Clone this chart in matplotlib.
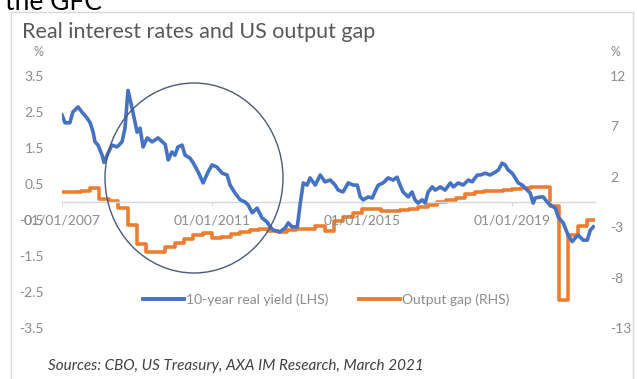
import matplotlib
matplotlib.use('Agg')
import matplotlib.pyplot as plt
import matplotlib.dates as mdates
from matplotlib.patches import Ellipse, Rectangle
from matplotlib.lines import Line2D
import pandas as pd

plt.rcParams['font.family'] = ['Lato', 'DejaVu Sans']
plt.rcParams['axes.unicode_minus'] = False

# ---------------- data ----------------
# 10-year real yield (LHS), decimal-year dates
yield_dates = [2007.00, 2007.08, 2007.21, 2007.29, 2007.43, 2007.53, 2007.67, 2007.75, 2007.83, 2007.88,
               2007.96, 2008.07, 2008.12, 2008.23, 2008.33, 2008.47, 2008.60, 2008.68, 2008.76, 2008.87,
               2009.00, 2009.08, 2009.16, 2009.27, 2009.40, 2009.56, 2009.75, 2009.83, 2009.93, 2010.01,
               2010.09, 2010.20, 2010.28, 2010.41, 2010.49, 2010.63, 2010.76, 2010.89, 2011.00, 2011.13,
               2011.27, 2011.40, 2011.48, 2011.61, 2011.75, 2011.88, 2011.96, 2012.07, 2012.20, 2012.33,
               2012.47, 2012.55, 2012.63, 2012.81, 2012.95, 2013.03, 2013.13, 2013.27, 2013.35, 2013.43,
               2013.53, 2013.61, 2013.75, 2013.88, 2014.01, 2014.15, 2014.28, 2014.36, 2014.49, 2014.63,
               2014.76, 2014.87, 2014.95, 2015.03, 2015.16, 2015.27, 2015.35, 2015.43, 2015.56, 2015.69,
               2015.83, 2015.93, 2016.01, 2016.09, 2016.23, 2016.33, 2016.41, 2016.49, 2016.60, 2016.68,
               2016.76, 2016.87, 2016.95, 2017.08, 2017.21, 2017.35, 2017.43, 2017.56, 2017.69, 2017.83,
               2017.93, 2018.07, 2018.15, 2018.28, 2018.41, 2018.55, 2018.63, 2018.73, 2018.81, 2018.89,
               2019.00, 2019.08, 2019.16, 2019.27, 2019.40, 2019.48, 2019.56, 2019.61, 2019.75, 2019.83,
               2019.93, 2020.01, 2020.15, 2020.23, 2020.36, 2020.49, 2020.60, 2020.68, 2020.76, 2020.89,
               2021.00, 2021.08, 2021.16]
yield_values = [2.42, 2.20, 2.20, 2.50, 2.64, 2.50, 2.33, 2.20, 1.94, 1.67,
                1.58, 1.30, 1.10, 1.36, 1.58, 1.53, 1.67, 2.05, 3.10, 2.60,
                1.94, 2.05, 1.53, 1.78, 1.67, 1.78, 1.60, 1.17, 1.39, 1.30,
                1.53, 1.58, 1.30, 1.22, 1.10, 0.83, 0.53, 0.83, 1.03, 0.97,
                0.80, 0.75, 0.47, 0.25, 0.06, 0.00, -0.08, -0.30, -0.17, -0.44,
                -0.56, -0.69, -0.78, -0.83, -0.72, -0.58, -0.69, -0.69, -0.03, 0.53,
                0.47, 0.67, 0.47, 0.75, 0.56, 0.61, 0.47, 0.33, 0.28, 0.53,
                0.47, 0.47, 0.14, 0.06, 0.14, 0.11, 0.30, 0.47, 0.53, 0.67,
                0.61, 0.69, 0.47, 0.28, 0.14, 0.28, 0.06, -0.03, 0.06, -0.03,
                0.28, 0.42, 0.33, 0.42, 0.33, 0.53, 0.42, 0.53, 0.47, 0.61,
                0.56, 0.75, 0.75, 0.80, 0.75, 0.83, 0.89, 1.08, 1.03, 0.89,
                0.80, 0.67, 0.53, 0.47, 0.33, 0.25, -0.03, 0.11, 0.14, 0.14,
                0.00, -0.08, -0.17, -0.42, -0.58, -0.92, -1.10, -1.00, -0.92, -1.06,
                -1.06, -0.78, -0.69]

# Output gap (RHS), quarterly from 2007Q1
gap_start = '2007-01-01'
gap_values = [0.45, 0.5, 0.6, 0.85, -0.2, -0.4, -1.1, -2.8, -4.7, -5.5,
              -5.5, -5.0, -4.6, -4.2, -3.8, -3.6, -4.1, -4.0, -3.7, -3.5,
              -3.3, -3.2, -3.4, -3.5, -3.3, -3.2, -3.2, -2.9, -3.4, -2.4,
              -2.0, -1.6, -1.2, -1.2, -1.4, -1.4, -1.3, -1.2, -1.0, -0.8,
              -0.5, -0.3, -0.1, 0.3, 0.5, 0.6, 0.6, 0.7, 0.8, 0.9,
              1.0, 1.0, -0.9, -10.2, -3.8, -2.9, -2.3]
gap_end = '2021-03-05'

left_ticks = [-3.5, -2.5, -1.5, -0.5, 0.5, 1.5, 2.5, 3.5]
right_ticks = [-13, -8, -3, 2, 7, 12]
x_tick_dates = ['2007-01-01', '2011-01-01', '2015-01-01', '2019-01-01']

title = 'Real interest rates and US output gap'
series_names = ['10-year real yield (LHS)', 'Output gap (RHS)']
source = 'Sources: CBO, US Treasury, AXA IM Research, March 2021'

# ---------------- helpers ----------------
def dec_to_ts(y):
    yr = int(y)
    return pd.Timestamp(yr, 1, 1) + pd.Timedelta(days=(y - yr) * 365.25)

yd = [dec_to_ts(v) for v in yield_dates]
gd = list(pd.date_range(gap_start, periods=len(gap_values), freq='QS')) + [pd.Timestamp(gap_end)]
gv = gap_values + [gap_values[-1]]

W, H = 637, 379
fig = plt.figure(figsize=(W / 100, H / 100), dpi=100)
fig.patch.set_facecolor('white')

def fx(px):
    return px / W

def fy(py):
    return 1 - py / H

# chart border
fig.patches.append(Rectangle((fx(11), fy(395)), fx(633) - fx(11), fy(12) - fy(395),
                             transform=fig.transFigure, fill=False, edgecolor='#d9d9d9', lw=1.0))

ax = fig.add_axes([fx(62), fy(328), fx(595) - fx(62), fy(76) - fy(328)])
ax2 = ax.twinx()

BLUE = '#4472C4'
ORANGE = '#ED7D31'
GRAY = '#8c8c8c'

ax.set_ylim(-3.5, 3.5)
ax2.set_ylim(-13, 12)
ax.set_xlim(pd.Timestamp('2007-01-01'), pd.Timestamp('2021-03-17'))

ax2.plot(gd, gv, color=ORANGE, lw=2.6, drawstyle='steps-post', zorder=2)
ax.plot(yd, yield_values, color=BLUE, lw=2.6, zorder=3)
ax.set_zorder(ax2.get_zorder() + 1)
ax.patch.set_visible(False)

for a in (ax, ax2):
    for s in ['top', 'left', 'right', 'bottom']:
        a.spines[s].set_visible(False)
ax.spines['bottom'].set_visible(True)
ax.spines['bottom'].set_position(('data', 0))
ax.spines['bottom'].set_color('#d9d9d9')
ax.spines['bottom'].set_linewidth(1.0)

ax.set_yticks(left_ticks)
ax.set_yticklabels([f'{t:.1f}' for t in left_ticks])
ax2.set_yticks(right_ticks)
ax2.set_yticklabels([str(t) for t in right_ticks])
ax.tick_params(axis='y', length=0, pad=13, labelsize=10, labelcolor=GRAY)
ax2.tick_params(axis='y', length=0, pad=11, labelsize=10, labelcolor=GRAY)

ax.set_xticks([pd.Timestamp(d) for d in x_tick_dates])
ax.xaxis.set_major_formatter(mdates.DateFormatter('%d/%m/%Y'))
ax.tick_params(axis='x', length=3, color='#d9d9d9', pad=6, labelsize=10, labelcolor=GRAY)

# % unit labels
fig.text(fx(38), fy(52), '%', ha='center', va='center', fontsize=9, color=GRAY)
fig.text(fx(615), fy(52), '%', ha='center', va='center', fontsize=9, color=GRAY)

# title and header remnant
fig.text(fx(22), fy(38), title, ha='left', va='baseline', fontsize=15.5, color='#595959')
fig.text(fx(5), fy(10), 'the GFC', ha='left', va='baseline', fontsize=19, color='black')

# circle
fig.patches.append(Ellipse((fx(194), fy(178)), fx(178), 190 / H, transform=fig.transFigure,
                           fill=False, edgecolor='#4a5a7c', lw=1.0, zorder=5))

# legend
handles = [Line2D([], [], color=BLUE, lw=2.8), Line2D([], [], color=ORANGE, lw=2.8)]
leg = fig.legend(handles, series_names, loc='center', bbox_to_anchor=(fx(326), fy(300)), ncol=2,
                 frameon=False, fontsize=10, handlelength=3.0, handletextpad=0.1,
                 columnspacing=2.2, labelcolor=GRAY)

# source
fig.text(fx(48), fy(366), source, ha='left', va='center', fontsize=11, style='italic', color='#404040')

fig.savefig('out.png', dpi=100, facecolor='white')
